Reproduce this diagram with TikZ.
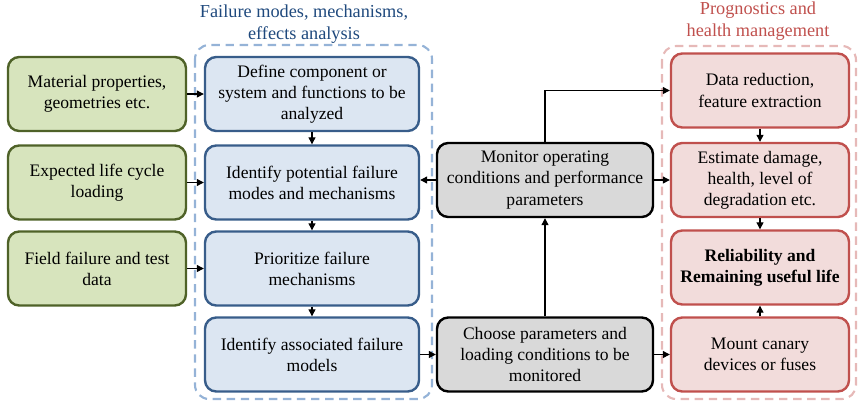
\documentclass[tikz,border=0pt]{standalone}
\usepackage{fontspec}
\setmainfont{Liberation Serif}
\usetikzlibrary{arrows.meta, positioning, backgrounds}
\definecolor{fmgreen}{RGB}{215,228,189}
\definecolor{fmgreendark}{RGB}{79,98,40}
\definecolor{fmblue}{RGB}{220,230,242}
\definecolor{fmbluedark}{RGB}{56,93,138}
\definecolor{fmbluedash}{RGB}{149,179,215}
\definecolor{fmtitle}{RGB}{31,73,125}
\definecolor{phmred}{RGB}{242,220,219}
\definecolor{phmreddark}{RGB}{192,80,77}
\definecolor{phmreddash}{RGB}{230,185,184}
\definecolor{mongrey}{RGB}{217,217,217}

\begin{document}
\begin{tikzpicture}[
  box/.style={rectangle, rounded corners=8pt, draw, line width=1.7pt,
              minimum height=1.85cm, align=center,
              font=\fontsize{12.5}{15}\selectfont},
  inbox/.style={box, fill=fmgreen, draw=fmgreendark, minimum width=4.45cm},
  fmbox/.style={box, fill=fmblue, draw=fmbluedark, minimum width=5.35cm},
  mbox/.style={box, fill=mongrey, draw=black, minimum width=5.4cm},
  phbox/.style={box, fill=phmred, draw=phmreddark, minimum width=4.45cm},
  group/.style={rounded corners=10pt, line width=1.5pt, dash pattern=on 6pt off 4pt},
  title/.style={align=center, font=\fontsize{13}{15.5}\selectfont},
  arr/.style={-{Triangle[length=5pt, width=5pt]}, line width=0.8pt}
]
  \useasboundingbox (0,0) rectangle (21.475,-10.175);

  %% -- Group frames
  \draw[group, fmbluedash]  (4.875,-1.125) rectangle (10.8,-9.975);
  \draw[group, phmreddash] (16.55,-1.15) rectangle (21.4,-9.975);
  \node[title, fmtitle]     (fmtitle)  at (7.6,-0.6)   {Failure modes, mechanisms,\\effects analysis};
  \node[title, phmreddark]  (phmtitle) at (18.95,-0.53) {Prognostics and\\health management};

  %% Inputs
  \node[inbox] (in1) at (2.425,-2.35)   {Material properties,\\geometries etc.};
  \node[inbox] (in2) at (2.425,-4.5625) {Expected life cycle\\loading};
  \node[inbox] (in3) at (2.425,-6.7125) {Field failure and test\\data};

  %% FMMEA steps
  \node[fmbox] (fm1) at (7.8,-2.35)   {Define component or\\system and functions to be\\analyzed};
  \node[fmbox] (fm2) at (7.8,-4.5625) {Identify potential failure\\modes and mechanisms};
  \node[fmbox] (fm3) at (7.8,-6.7125) {Prioritize failure\\mechanisms};
  \node[fmbox] (fm4) at (7.8,-8.8625) {Identify associated failure\\models};

  %% Monitoring
  \node[mbox] (mon) at (13.625,-4.5) {Monitor operating\\conditions and performance\\parameters};
  \node[mbox] (cho) at (13.625,-8.8625) {Choose parameters and\\loading conditions to be\\monitored};

  %% PHM steps
  \node[phbox] (ph1) at (19.0,-2.2625) {Data reduction,\\feature extraction};
  \node[phbox] (ph2) at (19.0,-4.5)    {Estimate damage,\\health, level of\\degradation etc.};
  \node[phbox] (ph3) at (19.0,-6.6875) {\textbf{Reliability and}\\\textbf{Remaining useful life}};
  \node[phbox] (ph4) at (19.0,-8.8625) {Mount canary\\devices or fuses};

  %% Connections
  \draw[arr] (in1) -- (fm1);
  \draw[arr] (in2) -- (fm2);
  \draw[arr] (in3) -- (fm3);
  \draw[arr] (fm1) -- (fm2);
  \draw[arr] (fm2) -- (fm3);
  \draw[arr] (fm3) -- (fm4);
  \draw[arr] (fm4) -- (cho);
  \draw[arr] (cho) -- (mon);
  \draw[arr] (cho) -- (ph4);
  \draw[arr] (mon.west) -- (mon.west -| fm2.east);
  \draw[arr] (mon) -- (ph2);
  \draw[arr] (mon.north) |- (ph1.west);
  \draw[arr] (ph1) -- (ph2);
  \draw[arr] (ph2) -- (ph3);
  \draw[arr] (ph4) -- (ph3);

\end{tikzpicture}
\end{document}
